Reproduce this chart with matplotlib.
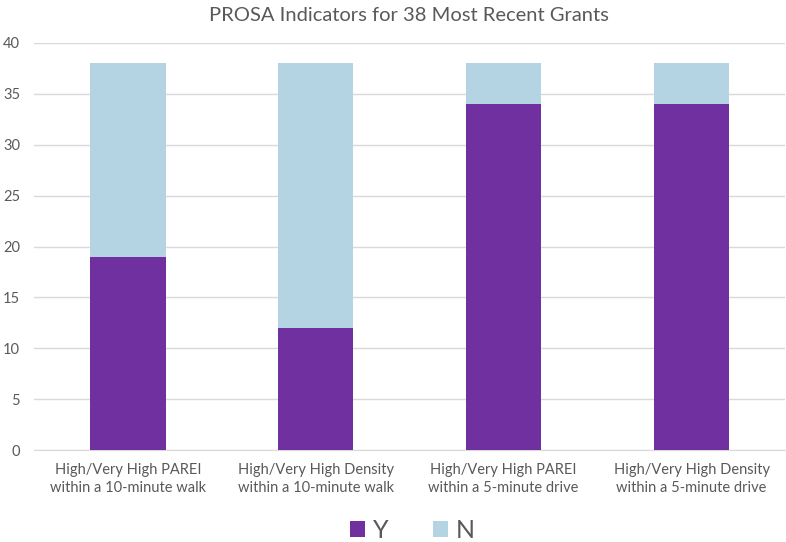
import matplotlib
matplotlib.use("Agg")
import matplotlib.pyplot as plt
import numpy as np

categories = [
    "High/Very High PAREI\nwithin a 10-minute walk",
    "High/Very High Density\nwithin a 10-minute walk",
    "High/Very High PAREI\nwithin a 5-minute drive",
    "High/Very High Density\nwithin a 5-minute drive",
]
yes_vals = [19, 12, 34, 34]
no_vals = [19, 26, 4, 4]

purple = "#7030A0"
light_blue = "#B4D4E4"
text_gray = "#595959"

plt.rcParams["font.family"] = ["Lato", "DejaVu Sans"]

fig = plt.figure(figsize=(7.86, 5.42), dpi=100)
ax = fig.add_axes([0.0433, 0.1697, 0.956, 0.751])

x = np.arange(len(categories))
ax.bar(x, yes_vals, width=0.4, color=purple, label="Y", zorder=3)
ax.bar(x, no_vals, width=0.4, bottom=yes_vals, color=light_blue, label="N", zorder=3)

ax.set_xlim(-0.5, len(categories) - 0.5)
ax.set_ylim(0, 40)
ax.set_yticks(range(0, 41, 5))
ax.yaxis.grid(True, color="#D9D9D9", linewidth=1, zorder=0)
ax.set_axisbelow(True)
for s in ["top", "right", "left"]:
    ax.spines[s].set_visible(False)
ax.spines["bottom"].set_color("#D9D9D9")
ax.tick_params(axis="both", length=0, colors=text_gray, labelsize=10.5)
ax.tick_params(axis="y", pad=10)
ax.tick_params(axis="x", pad=9)
ax.set_xticks(x)
ax.set_xticklabels(categories, linespacing=1.45)

fig.text(0.52, 0.972, "PROSA Indicators for 38 Most Recent Grants",
         ha="center", va="center", fontsize=14.5, color=text_gray)

fig.legend(loc="center", bbox_to_anchor=(0.525, 0.022), ncol=2, frameon=False,
           fontsize=18, handlelength=0.6, handleheight=0.6, handletextpad=0.3,
           columnspacing=1.8, labelcolor=text_gray)

fig.savefig("out.png", dpi=100)
